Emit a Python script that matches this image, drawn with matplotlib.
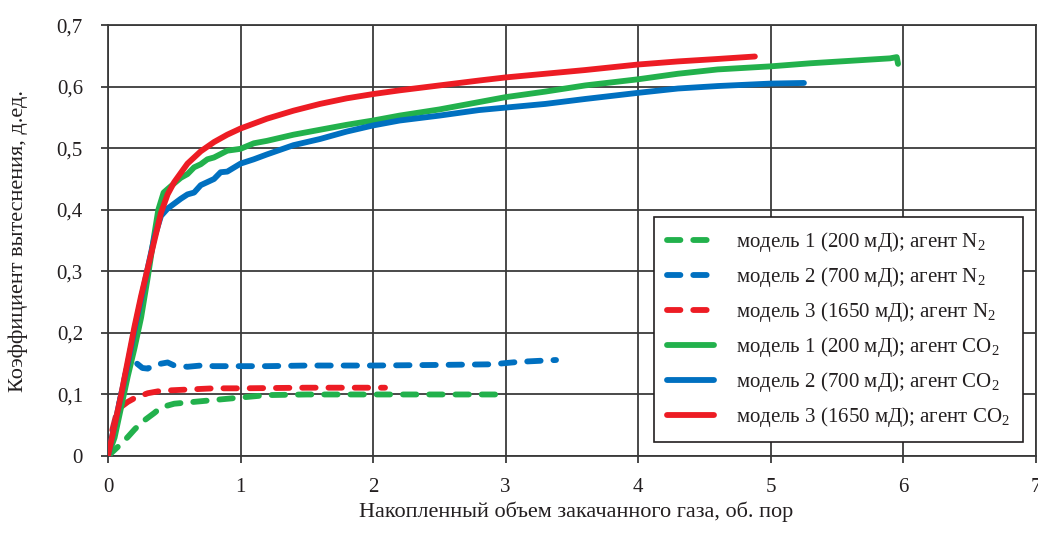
import matplotlib
matplotlib.use("Agg")
import matplotlib.pyplot as plt
from matplotlib.ticker import FuncFormatter

plt.rcParams['font.family'] = ['Liberation Serif', 'DejaVu Serif']
plt.rcParams['mathtext.fontset'] = 'custom'
plt.rcParams['mathtext.rm'] = 'Liberation Serif'

GREEN = '#22b14c'
BLUE = '#0070c0'
RED = '#ed1c24'
TXT = '#231f20'
GRID = '#3a3a3a'

# ---- data ----
m1_n2_x = [0, 0.05, 0.1, 0.15, 0.2, 0.25, 0.3, 0.35, 0.4, 0.5, 0.6, 0.7, 0.8, 1.0, 1.2, 1.5, 2.0, 2.5, 3.0]
m1_n2_y = [0, 0.01, 0.02, 0.031, 0.043, 0.054, 0.062, 0.07, 0.079, 0.085, 0.087, 0.089, 0.091, 0.095, 0.099, 0.1, 0.1, 0.1, 0.1]

m2_n2_x = [0, 0.05, 0.1, 0.14, 0.18, 0.22, 0.26, 0.3, 0.35, 0.4, 0.45, 0.5, 0.6, 0.7, 0.8, 1.0, 1.2, 1.5, 2.0, 2.5, 2.9, 3.1, 3.38]
m2_n2_y = [0, 0.05, 0.1, 0.14, 0.155, 0.15, 0.143, 0.142, 0.148, 0.15, 0.152, 0.147, 0.145, 0.147, 0.146, 0.146, 0.146, 0.147, 0.147, 0.148, 0.149, 0.153, 0.156]

m3_n2_x = [0, 0.03, 0.06, 0.1, 0.15, 0.2, 0.3, 0.4, 0.6, 0.8, 1.0, 1.5, 2.09]
m3_n2_y = [0, 0.04, 0.065, 0.08, 0.088, 0.094, 0.102, 0.106, 0.108, 0.11, 0.11, 0.111, 0.111]

m1_co2_x = [0, 0.05, 0.1, 0.15, 0.2, 0.25, 0.3, 0.35, 0.38, 0.42, 0.5, 0.55, 0.6, 0.65, 0.7, 0.75, 0.8, 0.9, 1.0,
            1.1, 1.2, 1.4, 1.6, 1.8, 2.0, 2.2, 2.5, 2.8, 3.0, 3.3, 3.6, 4.0, 4.3, 4.6, 5.0, 5.3, 5.6, 5.9, 5.95, 5.96]
m1_co2_y = [0, 0.03, 0.08, 0.13, 0.175, 0.225, 0.29, 0.36, 0.40, 0.428, 0.443, 0.452, 0.458, 0.469, 0.474, 0.482,
            0.485, 0.496, 0.499, 0.508, 0.512, 0.522, 0.530, 0.538, 0.545, 0.553, 0.563, 0.575, 0.583, 0.592, 0.602,
            0.612, 0.621, 0.628, 0.633, 0.638, 0.642, 0.646, 0.648, 0.637]

m2_co2_x = [0, 0.05, 0.1, 0.15, 0.2, 0.25, 0.3, 0.35, 0.4, 0.45, 0.5, 0.55, 0.6, 0.65, 0.7, 0.75, 0.8, 0.85, 0.9,
            1.0, 1.1, 1.2, 1.4, 1.6, 1.8, 2.0, 2.2, 2.5, 2.8, 3.0, 3.3, 3.6, 4.0, 4.3, 4.6, 5.0, 5.25]
m2_co2_y = [0, 0.05, 0.1, 0.15, 0.205, 0.255, 0.305, 0.355, 0.39, 0.402, 0.41, 0.418, 0.425, 0.428, 0.440, 0.445,
            0.450, 0.461, 0.462, 0.475, 0.482, 0.49, 0.505, 0.515, 0.527, 0.537, 0.545, 0.553, 0.562, 0.566, 0.572,
            0.580, 0.59, 0.597, 0.601, 0.605, 0.606]

m3_co2_x = [0, 0.05, 0.1, 0.15, 0.2, 0.25, 0.3, 0.35, 0.4, 0.45, 0.5, 0.6, 0.7, 0.8, 0.9, 1.0, 1.2, 1.4, 1.6, 1.8,
            2.0, 2.2, 2.5, 2.8, 3.0, 3.3, 3.6, 4.0, 4.3, 4.6, 4.88]
m3_co2_y = [0, 0.05, 0.10, 0.155, 0.21, 0.26, 0.305, 0.35, 0.395, 0.425, 0.445, 0.475, 0.495, 0.51, 0.522, 0.532,
            0.548, 0.561, 0.572, 0.581, 0.588, 0.594, 0.602, 0.61, 0.615, 0.621, 0.627, 0.636, 0.641, 0.645, 0.649]

labels = [
    r"модель 1 (200 мД); агент N$_\mathrm{2}$",
    r"модель 2 (700 мД); агент N$_\mathrm{2}$",
    r"модель 3 (1650 мД); агент N$_\mathrm{2}$",
    r"модель 1 (200 мД); агент CO$_\mathrm{2}$",
    r"модель 2 (700 мД); агент CO$_\mathrm{2}$",
    r"модель 3 (1650 мД); агент CO$_\mathrm{2}$",
]
x_ticks = [0, 1, 2, 3, 4, 5, 6, 7]
y_ticks = [0, 0.1, 0.2, 0.3, 0.4, 0.5, 0.6, 0.7]

fig = plt.figure(figsize=(10.38, 5.34), dpi=100)
ax = fig.add_axes([0.104, 0.146, 0.894, 0.807])

LW = 4.2
dash = (2.3, 2.2)

series = [
    (m1_n2_x, m1_n2_y, GREEN, True),
    (m2_n2_x, m2_n2_y, BLUE, True),
    (m3_n2_x, m3_n2_y, RED, True),
    (m1_co2_x, m1_co2_y, GREEN, False),
    (m2_co2_x, m2_co2_y, BLUE, False),
    (m3_co2_x, m3_co2_y, RED, False),
]
for (xs, ys, c, dashed), lab in zip(series, labels):
    ln, = ax.plot(xs, ys, color=c, lw=LW, label=lab, solid_capstyle='round',
                  dash_capstyle='round', solid_joinstyle='round', zorder=3)
    if dashed:
        ln.set_dashes(dash)

ax.set_xlim(0, 7)
ax.set_ylim(0, 0.7)
ax.set_xticks(x_ticks)
ax.set_yticks(y_ticks)
ax.xaxis.set_major_formatter(FuncFormatter(lambda v, p: f"{v:g}".replace('.', ',')))
ax.yaxis.set_major_formatter(FuncFormatter(lambda v, p: ("0" if abs(v) < 1e-9 else f"{v:.1f}".replace('.', ','))))
ax.grid(True, color=GRID, lw=1.3, zorder=1)
for s in ax.spines.values():
    s.set_color(GRID)
    s.set_linewidth(1.3)
ax.tick_params(direction='out', length=5, width=1.3, color=GRID, labelsize=15, labelcolor=TXT)
ax.tick_params(axis='y', pad=13)
ax.tick_params(axis='x', pad=11)
ax.set_xlabel("Накопленный объем закачанного газа, об. пор", fontsize=16, color=TXT, va='center')
ax.set_ylabel("Коэффициент вытеснения, д.ед.", fontsize=16, color=TXT, va='center')
ax.xaxis.set_label_coords(0.504, -0.13)
ax.yaxis.set_label_coords(-0.097, 0.5)

leg = ax.legend(loc='lower left', bbox_to_anchor=(0.588, 0.032), borderaxespad=0, fontsize=15,
                frameon=True, fancybox=False, edgecolor=TXT, framealpha=1,
                handlelength=2.3, handletextpad=1.05, labelspacing=0.53, borderpad=0.62)
leg.get_frame().set_linewidth(1.2)
for t in leg.get_texts():
    t.set_color(TXT)

fig.savefig("out.png", dpi=100)
